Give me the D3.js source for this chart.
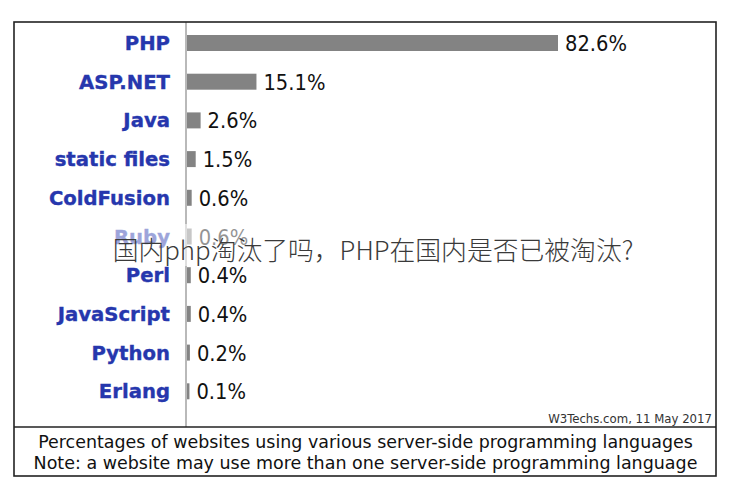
<!DOCTYPE html>
<html>
<head>
<meta charset="utf-8">
<script src="https://cdn.jsdelivr.net/npm/d3@7/dist/d3.min.js"></script>
<style>
  html, body { margin: 0; padding: 0; background: #fff; }
  svg { display: block; }
</style>
</head>
<body>
<svg id="chart" width="744" height="490"></svg>
<script>
// ---- data ----
const languages = ["PHP", "ASP.NET", "Java", "static files", "ColdFusion", "Ruby", "Perl", "JavaScript", "Python", "Erlang"];
const shares = [82.6, 15.1, 2.6, 1.5, 0.6, 0.6, 0.4, 0.4, 0.2, 0.1];
const valueLabels = ["82.6%", "15.1%", "2.6%", "1.5%", "0.6%", "0.6%", "0.4%", "0.4%", "0.2%", "0.1%"];
const captionLines = [
  "Percentages of websites using various server-side programming languages",
  "Note: a website may use more than one server-side programming language"
];
const sourceText = "W3Techs.com, 11 May 2017";
const watermark = "国内php淘汰了吗，PHP在国内是否已被淘汰?";

// ---- layout ----
const svg = d3.select("#chart");
const box = { left: 14, top: 22, right: 716, bottom: 476, divider: 427 };
const axisX = 186;

svg.append("rect").attr("width", 744).attr("height", 490).attr("fill", "#fff");

const y = d3.scaleBand()
  .domain(languages)
  .range([23.65, 410.65])
  .paddingInner(0.587)
  .paddingOuter(0.2935);

const x = d3.scaleLinear().domain([0, 82.6]).range([0, 369]);

const data = languages.map((l, i) => ({ lang: l, v: shares[i], label: valueLabels[i] }));

function fitSize(text, family, weight, target) {
  const t = svg.append("text").attr("font-family", family).attr("font-weight", weight)
    .attr("font-size", 100).text(text);
  const len = t.node().getComputedTextLength();
  t.remove();
  return 100 * target / len;
}

const labelFont = "'DejaVu Sans', Verdana, sans-serif";
const valueFont = "'DejaVu Sans', Verdana, sans-serif";
const labelSize = fitSize("ASP.NET", labelFont, "bold", 91);
const valueSize = fitSize("15.1%", valueFont, "normal", 62);

// bars
svg.append("g").selectAll("rect").data(data).join("rect")
  .attr("x", axisX + 1)
  .attr("y", d => y(d.lang))
  .attr("width", d => x(d.v) + 2)
  .attr("height", y.bandwidth())
  .attr("fill", "#838383");

// axis line (vertical)
svg.append("line")
  .attr("x1", axisX).attr("x2", axisX)
  .attr("y1", box.top).attr("y2", box.divider)
  .attr("stroke", "#8a8a8a").attr("stroke-width", 1.2);

// category labels
svg.append("g").selectAll("text").data(data).join("text")
  .attr("x", 170)
  .attr("y", d => y(d.lang) + y.bandwidth() / 2)
  .attr("dy", "0.36em")
  .attr("text-anchor", "end")
  .attr("font-family", labelFont)
  .attr("font-weight", "bold")
  .attr("font-size", labelSize)
  .attr("fill", "#2637ad")
  .attr("stroke", "#2637ad").attr("stroke-width", 0.35)
  .text(d => d.lang);

// value labels
svg.append("g").selectAll("text").data(data).join("text")
  .attr("x", d => axisX + 1 + x(d.v) + 2 + 7)
  .attr("y", d => y(d.lang) + y.bandwidth() / 2)
  .attr("dy", "0.37em")
  .attr("font-family", valueFont)
  .attr("font-size", valueSize)
  .attr("fill", "#111")
  .attr("transform-origin", d => `${axisX + 1 + x(d.v) + 9}px ${y(d.lang) + y.bandwidth() / 2}px`)
  .style("transform", "scaleY(1.12)")
  .text(d => d.label);

// frame
svg.append("rect")
  .attr("x", box.left).attr("y", box.top)
  .attr("width", box.right - box.left).attr("height", box.bottom - box.top)
  .attr("fill", "none").attr("stroke", "#222").attr("stroke-width", 1.6);
svg.append("line")
  .attr("x1", box.left).attr("x2", box.right)
  .attr("y1", box.divider).attr("y2", box.divider)
  .attr("stroke", "#222").attr("stroke-width", 1.6);

function fitText(sel, target) {
  const len = sel.node().getComputedTextLength();
  const fs = parseFloat(sel.attr("font-size"));
  sel.attr("font-size", fs * target / len);
}

// source
const src = svg.append("text")
  .attr("x", 712).attr("y", 423)
  .attr("text-anchor", "end")
  .attr("font-family", "'DejaVu Sans Condensed', 'DejaVu Sans', sans-serif")
  .attr("font-size", 12)
  .attr("fill", "#333")
  .text(sourceText);
fitText(src, 164);

// caption
const capY = [448, 468.5];
const capW = [655, 664];
captionLines.forEach((t, i) => {
  const c = svg.append("text")
    .attr("x", 365.5).attr("y", capY[i])
    .attr("text-anchor", "middle")
    .attr("font-family", "'DejaVu Sans', Verdana, sans-serif")
    .attr("font-size", 16)
    .attr("fill", "#111")
    .text(t);
  fitText(c, capW[i]);
});

// watermark
svg.append("rect")
  .attr("x", 105).attr("y", 224).attr("width", 540).attr("height", 42)
  .attr("fill", "#fff").attr("opacity", 0.55);
const wm = svg.append("text")
  .attr("x", 373).attr("y", 260)
  .attr("text-anchor", "middle")
  .attr("font-family", "'Noto Sans CJK SC', sans-serif")
  .attr("font-weight", 300)
  .attr("font-size", 25)
  .attr("fill", "#3a3a3a")
  .text(watermark);
fitText(wm, 521);
</script>
</body>
</html>
